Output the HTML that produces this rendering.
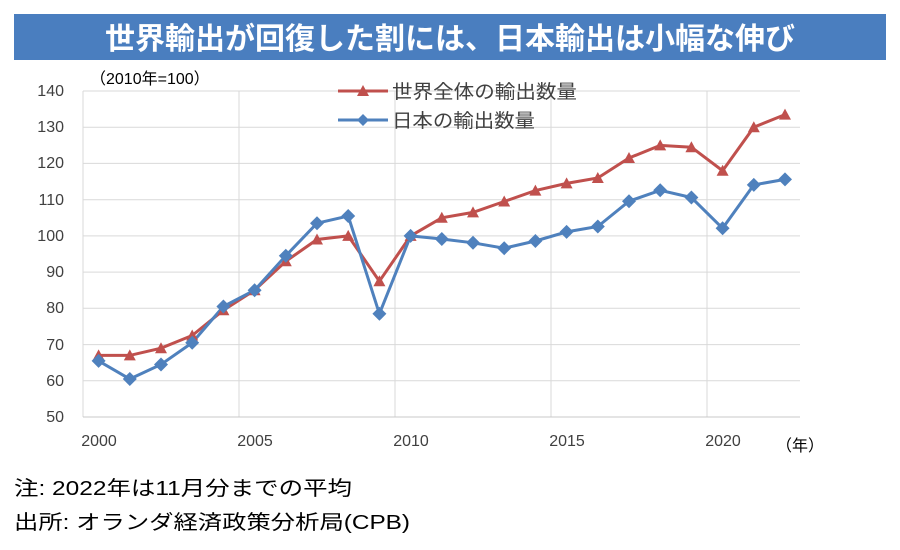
<!DOCTYPE html>
<html><head><meta charset="utf-8"><style>
body{margin:0;background:#fff;width:900px;height:545px;overflow:hidden;font-family:"Liberation Sans","Noto Sans CJK JP",sans-serif}
</style></head><body>
<svg width="900" height="545" xmlns="http://www.w3.org/2000/svg" font-family="Liberation Sans, Noto Sans CJK JP, sans-serif">
<rect x="14" y="14" width="872" height="46" fill="#4a7ebf"/>
<text x="450" y="49" text-anchor="middle" fill="#fff" font-size="30" font-weight="bold">世界輸出が回復した割には、日本輸出は小幅な伸び</text>
<g stroke="#d9d9d9" stroke-width="1">
<line x1="83" x2="800" y1="91" y2="91"/><line x1="83" x2="800" y1="127.2" y2="127.2"/><line x1="83" x2="800" y1="163.4" y2="163.4"/><line x1="83" x2="800" y1="199.7" y2="199.7"/><line x1="83" x2="800" y1="235.9" y2="235.9"/><line x1="83" x2="800" y1="272.1" y2="272.1"/><line x1="83" x2="800" y1="308.3" y2="308.3"/><line x1="83" x2="800" y1="344.6" y2="344.6"/><line x1="83" x2="800" y1="380.8" y2="380.8"/>
<line x1="83" x2="83" y1="91" y2="417"/><line x1="239" x2="239" y1="91" y2="417"/><line x1="395" x2="395" y1="91" y2="417"/><line x1="551" x2="551" y1="91" y2="417"/><line x1="707" x2="707" y1="91" y2="417"/>
</g>
<line x1="83" x2="800" y1="417" y2="417" stroke="#c8c8c8"/>
<g font-size="16" fill="#404040" text-anchor="end">
<text x="64" y="96">140</text><text x="64" y="132">130</text><text x="64" y="168">120</text><text x="64" y="205">110</text><text x="64" y="241">100</text><text x="64" y="277">90</text><text x="64" y="313">80</text><text x="64" y="350">70</text><text x="64" y="386">60</text><text x="64" y="422">50</text>
</g>
<g font-size="16" fill="#404040" text-anchor="middle">
<text x="99" y="446">2000</text><text x="255" y="446">2005</text><text x="411" y="446">2010</text><text x="567" y="446">2015</text><text x="723" y="446">2020</text>
</g>
<text x="776" y="451" font-size="16" fill="#000">（年）</text>
<text x="90" y="84" font-size="16" fill="#000">（2010年=100）</text>
<polyline fill="none" stroke="#c0504d" stroke-width="3" points="98.6,355.4 129.8,355.4 161,348.2 192.2,335.5 223.4,310.2 254.6,290.2 285.8,261.3 317,239.5 348.2,235.9 379.4,281.2 410.6,235.9 441.8,217.8 473,212.4 504.2,201.5 535.4,190.6 566.6,183.4 597.8,178 629,158 660.2,145.4 691.4,147.2 722.6,170.7 753.8,127.2 785,114.6"/>
<polyline fill="none" stroke="#4f81bd" stroke-width="3" points="98.6,360.9 129.8,379 161,364.5 192.2,342.7 223.4,306.5 254.6,290.2 285.8,255.8 317,223.2 348.2,216 379.4,313.8 410.6,235.9 441.8,239 473,242.8 504.2,248.2 535.4,241 566.6,231.9 597.8,226.5 629,201.2 660.2,190.3 691.4,197.5 722.6,228.3 753.8,184.9 785,179.4"/>
<g fill="#c0504d">
<path d="M0,-6 L6,5 L-6,5Z" transform="translate(98.6,355.4)"/><path d="M0,-6 L6,5 L-6,5Z" transform="translate(129.8,355.4)"/><path d="M0,-6 L6,5 L-6,5Z" transform="translate(161,348.2)"/><path d="M0,-6 L6,5 L-6,5Z" transform="translate(192.2,335.5)"/><path d="M0,-6 L6,5 L-6,5Z" transform="translate(223.4,310.2)"/><path d="M0,-6 L6,5 L-6,5Z" transform="translate(254.6,290.2)"/><path d="M0,-6 L6,5 L-6,5Z" transform="translate(285.8,261.3)"/><path d="M0,-6 L6,5 L-6,5Z" transform="translate(317,239.5)"/><path d="M0,-6 L6,5 L-6,5Z" transform="translate(348.2,235.9)"/><path d="M0,-6 L6,5 L-6,5Z" transform="translate(379.4,281.2)"/><path d="M0,-6 L6,5 L-6,5Z" transform="translate(410.6,235.9)"/><path d="M0,-6 L6,5 L-6,5Z" transform="translate(441.8,217.8)"/><path d="M0,-6 L6,5 L-6,5Z" transform="translate(473,212.4)"/><path d="M0,-6 L6,5 L-6,5Z" transform="translate(504.2,201.5)"/><path d="M0,-6 L6,5 L-6,5Z" transform="translate(535.4,190.6)"/><path d="M0,-6 L6,5 L-6,5Z" transform="translate(566.6,183.4)"/><path d="M0,-6 L6,5 L-6,5Z" transform="translate(597.8,178)"/><path d="M0,-6 L6,5 L-6,5Z" transform="translate(629,158)"/><path d="M0,-6 L6,5 L-6,5Z" transform="translate(660.2,145.4)"/><path d="M0,-6 L6,5 L-6,5Z" transform="translate(691.4,147.2)"/><path d="M0,-6 L6,5 L-6,5Z" transform="translate(722.6,170.7)"/><path d="M0,-6 L6,5 L-6,5Z" transform="translate(753.8,127.2)"/><path d="M0,-6 L6,5 L-6,5Z" transform="translate(785,114.6)"/>
</g>
<g fill="#4f81bd">
<path d="M0,-7 L7,0 L0,7 L-7,0Z" transform="translate(98.6,360.9)"/><path d="M0,-7 L7,0 L0,7 L-7,0Z" transform="translate(129.8,379)"/><path d="M0,-7 L7,0 L0,7 L-7,0Z" transform="translate(161,364.5)"/><path d="M0,-7 L7,0 L0,7 L-7,0Z" transform="translate(192.2,342.7)"/><path d="M0,-7 L7,0 L0,7 L-7,0Z" transform="translate(223.4,306.5)"/><path d="M0,-7 L7,0 L0,7 L-7,0Z" transform="translate(254.6,290.2)"/><path d="M0,-7 L7,0 L0,7 L-7,0Z" transform="translate(285.8,255.8)"/><path d="M0,-7 L7,0 L0,7 L-7,0Z" transform="translate(317,223.2)"/><path d="M0,-7 L7,0 L0,7 L-7,0Z" transform="translate(348.2,216)"/><path d="M0,-7 L7,0 L0,7 L-7,0Z" transform="translate(379.4,313.8)"/><path d="M0,-7 L7,0 L0,7 L-7,0Z" transform="translate(410.6,235.9)"/><path d="M0,-7 L7,0 L0,7 L-7,0Z" transform="translate(441.8,239)"/><path d="M0,-7 L7,0 L0,7 L-7,0Z" transform="translate(473,242.8)"/><path d="M0,-7 L7,0 L0,7 L-7,0Z" transform="translate(504.2,248.2)"/><path d="M0,-7 L7,0 L0,7 L-7,0Z" transform="translate(535.4,241)"/><path d="M0,-7 L7,0 L0,7 L-7,0Z" transform="translate(566.6,231.9)"/><path d="M0,-7 L7,0 L0,7 L-7,0Z" transform="translate(597.8,226.5)"/><path d="M0,-7 L7,0 L0,7 L-7,0Z" transform="translate(629,201.2)"/><path d="M0,-7 L7,0 L0,7 L-7,0Z" transform="translate(660.2,190.3)"/><path d="M0,-7 L7,0 L0,7 L-7,0Z" transform="translate(691.4,197.5)"/><path d="M0,-7 L7,0 L0,7 L-7,0Z" transform="translate(722.6,228.3)"/><path d="M0,-7 L7,0 L0,7 L-7,0Z" transform="translate(753.8,184.9)"/><path d="M0,-7 L7,0 L0,7 L-7,0Z" transform="translate(785,179.4)"/>
</g>
<line x1="338" x2="388" y1="91" y2="91" stroke="#c0504d" stroke-width="3"/>
<path d="M363,85 L369,96 L357,96Z" fill="#c0504d"/>
<text x="392" y="98" font-size="19" fill="#404040" textLength="185" lengthAdjust="spacingAndGlyphs">世界全体の輸出数量</text>
<line x1="338" x2="388" y1="120" y2="120" stroke="#4f81bd" stroke-width="3"/>
<path d="M363,114 L369,120 L363,126 L357,120Z" fill="#4f81bd"/>
<text x="392" y="127" font-size="19" fill="#404040" textLength="143" lengthAdjust="spacingAndGlyphs">日本の輸出数量</text>
<text x="14" y="495" font-size="20" fill="#000" textLength="338" lengthAdjust="spacingAndGlyphs">注: 2022年は11月分までの平均</text>
<text x="14" y="529" font-size="20" fill="#000" textLength="396" lengthAdjust="spacingAndGlyphs">出所: オランダ経済政策分析局(CPB)</text>
</svg>
</body></html>
